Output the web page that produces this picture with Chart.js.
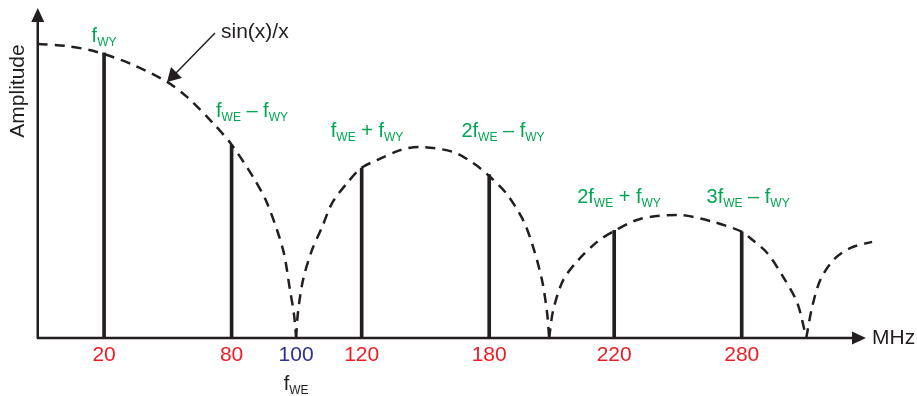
<!DOCTYPE html>
<html>
<head>
<meta charset="utf-8">
<script src="https://cdn.jsdelivr.net/npm/chart.js@4/dist/chart.umd.min.js"></script>
<style>
  html, body { margin: 0; padding: 0; background: #fff; }
  #wrap { width: 917px; height: 396px; }
</style>
</head>
<body>
<div id="wrap"><canvas id="chart"></canvas></div>
<script>
// spectral lines (schematic x position, relative amplitude)
const lineX = [25, 75, 126, 176, 225, 275];
const lineAmp = [0.97, 0.656, 0.578, 0.556, 0.366, 0.361];
const lineNames = ['f_{WY}', 'f_{WE} – f_{WY}', 'f_{WE} + f_{WY}', '2f_{WE} – f_{WY}', '2f_{WE} + f_{WY}', '3f_{WE} – f_{WY}'];

// x-axis ticks
const tickPos = [25, 75, 100.3, 126, 176, 225, 275];
const tickLabels = ['20', '80', '100', '120', '180', '220', '280'];

// sin(x)/x envelope
const lobe1 = [[-1, 1.0], [10.5, 0.993], [22.2, 0.973], [36.4, 0.929], [49.7, 0.871], [57.5, 0.82], [67.7, 0.731],
  [74.8, 0.66], [83.4, 0.548], [88.9, 0.459], [95.2, 0.299], [97.9, 0.163], [99.5, 0.078], [100.3, 0]];
const lobe2 = [[100.3, 0], [101, 0.085], [103, 0.197], [106.5, 0.299], [110.5, 0.378], [114.4, 0.459], [120.3, 0.527],
  [125.8, 0.578], [132, 0.605], [141.1, 0.639], [148.9, 0.65], [161.8, 0.633], [169.7, 0.595], [175.6, 0.554],
  [182.6, 0.493], [189.3, 0.401], [193.2, 0.31], [196.7, 0.197], [198.7, 0.085], [199.5, 0]];
const lobe3 = [[199.5, 0], [201.1, 0.095], [205, 0.197], [210.9, 0.265], [218.3, 0.327], [225, 0.364], [235.2, 0.405],
  [250.9, 0.418], [263.8, 0.395], [275.2, 0.361], [278.3, 0.34], [285, 0.289], [291.3, 0.207], [296.8, 0.119], [300.3, 0]];
const lobe4 = [[300.3, 0], [302.6, 0.105], [305.8, 0.197], [310.9, 0.265], [317.5, 0.306], [326.1, 0.327]];

// label placement in data units: [centre x, baseline y]
const namePlace = [[25, 1.007], [83, 0.752], [128.1, 0.684], [181.4, 0.684], [226.9, 0.459], [277.5, 0.459]];

const FONT = '"Liberation Sans", Arial, Helvetica, sans-serif';
const INK = '#231f20';
const GREEN = '#00a651';
const RED = '#ed1c24';
const BLUE = '#2e3192';

function toPoints(arr) {
  return arr.map(p => ({ x: p[0], y: p[1] }));
}

function drawRich(ctx, spec, cx, baseline, color, size, subSize) {
  const parts = spec.split(/_\{([^}]*)\}/);
  let total = 0;
  const widths = parts.map((t, i) => {
    ctx.font = (i % 2 ? subSize : size) + 'px ' + FONT;
    const w = ctx.measureText(t).width;
    total += w;
    return w;
  });
  let x = cx - total / 2;
  ctx.fillStyle = color;
  ctx.textAlign = 'left';
  ctx.textBaseline = 'alphabetic';
  parts.forEach((t, i) => {
    ctx.font = (i % 2 ? subSize : size) + 'px ' + FONT;
    ctx.fillText(t, x, i % 2 ? baseline + 4 : baseline);
    x += widths[i];
  });
}

const decor = {
  id: 'decor',
  afterDraw(chart) {
    const ctx = chart.ctx;
    const xs = chart.scales.x, ys = chart.scales.y;
    const ox = xs.getPixelForValue(-1), oy = ys.getPixelForValue(0);
    ctx.save();
    ctx.strokeStyle = INK;
    ctx.fillStyle = INK;
    ctx.lineWidth = 2.5;
    // axes with arrow heads
    ctx.beginPath();
    ctx.moveTo(ox, oy);
    ctx.lineTo(ox, 20);
    ctx.moveTo(ox - 1, oy);
    ctx.lineTo(855, oy);
    ctx.stroke();
    ctx.beginPath();
    ctx.moveTo(ox, 8); ctx.lineTo(ox - 6.5, 22); ctx.lineTo(ox + 6.5, 22); ctx.closePath();
    ctx.fill();
    ctx.beginPath();
    ctx.moveTo(866, oy); ctx.lineTo(852, oy - 6.5); ctx.lineTo(852, oy + 6.5); ctx.closePath();
    ctx.fill();

    // axis titles
    ctx.font = '21px ' + FONT;
    ctx.textAlign = 'left';
    ctx.textBaseline = 'middle';
    ctx.fillText('MHz', 872, oy);
    ctx.save();
    ctx.translate(18, 91);
    ctx.rotate(-Math.PI / 2);
    ctx.textAlign = 'center';
    ctx.fillText('Amplitude', 0, 0);
    ctx.restore();

    // sin(x)/x callout
    ctx.textAlign = 'left';
    ctx.fillText('sin(x)/x', 221, 32);
    ctx.lineWidth = 1.5;
    ctx.beginPath();
    ctx.moveTo(215, 33);
    ctx.lineTo(176, 73);
    ctx.stroke();
    ctx.beginPath();
    ctx.moveTo(167, 82); ctx.lineTo(171, 67); ctx.lineTo(182, 78); ctx.closePath();
    ctx.fill();

    // line names
    lineNames.forEach((n, i) => {
      drawRich(ctx, n, xs.getPixelForValue(namePlace[i][0]), ys.getPixelForValue(namePlace[i][1]), GREEN, 20, 12);
    });
    // f_WE under 100
    drawRich(ctx, 'f_{WE}', xs.getPixelForValue(tickPos[2]), 390, INK, 20, 12);
    ctx.restore();
  }
};

const dash = (data) => ({
  type: 'line',
  data: toPoints(data),
  borderColor: INK,
  borderWidth: 2.5,
  borderDash: [10, 7],
  pointRadius: 0,
  tension: 0.3,
  fill: false,
  clip: false
});

new Chart(document.getElementById('chart'), {
  type: 'bar',
  data: {
    datasets: [
      {
        data: lineX.map((x, i) => ({ x, y: lineAmp[i] })),
        backgroundColor: INK,
        barThickness: 3
      },
      dash(lobe1), dash(lobe2), dash(lobe3), dash(lobe4)
    ]
  },
  options: {
    responsive: true,
    maintainAspectRatio: false,
    animation: false,
    layout: { padding: { left: 37.75, right: 35, top: 9, bottom: 28 } },
    plugins: { legend: { display: false }, tooltip: { enabled: false } },
    scales: {
      x: {
        type: 'linear',
        offset: false,
        min: -1,
        max: 330,
        grid: { display: false, drawTicks: false, offset: false },
        border: { display: false },
        afterBuildTicks: (axis) => { axis.ticks = tickPos.map(value => ({ value })); },
        afterFit: (axis) => { axis.height = 30; },
        ticks: {
          autoSkip: false,
          maxRotation: 0,
          padding: 5,
          font: { family: FONT, size: 21 },
          color: (c) => (c.index === 2 ? BLUE : RED),
          callback: (v, i) => tickLabels[i]
        }
      },
      y: {
        display: false,
        min: 0,
        max: 1.119
      }
    }
  },
  plugins: [decor]
});
</script>
</body>
</html>
